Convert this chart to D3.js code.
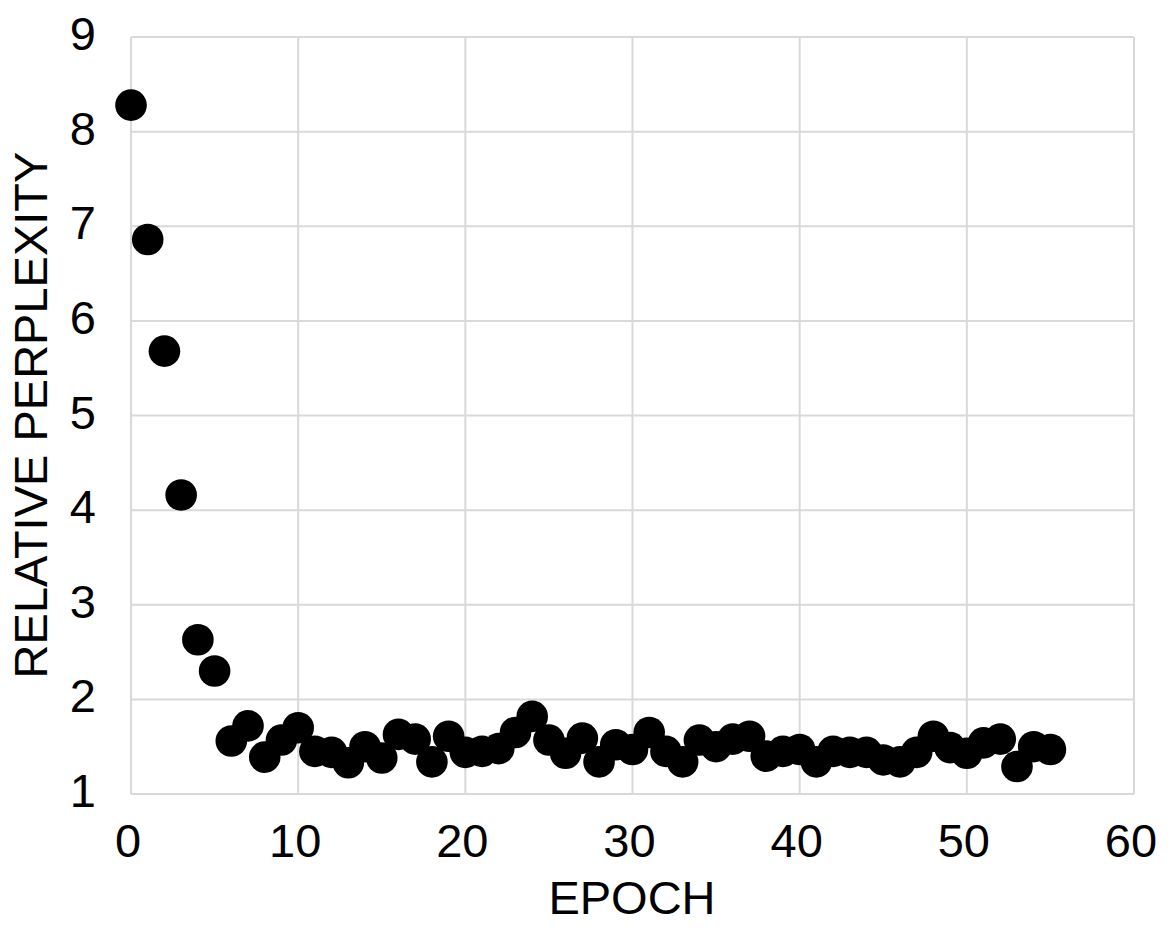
<!DOCTYPE html>
<html>
<head>
<meta charset="utf-8">
<script src="https://cdn.jsdelivr.net/npm/d3@7"></script>
<style>
  body { margin: 0; background: #fff; }
  text { font-family: "Liberation Sans", Arial, Helvetica, sans-serif; fill: #000; }
</style>
</head>
<body>
<svg id="chart"></svg>
<script>
// epochs 0..55 and relative perplexity
var epochs = d3.range(0, 56)
var perplexity = [8.28, 6.86, 5.68, 4.16, 2.63, 2.30, 1.56, 1.72, 1.39, 1.57,
                  1.70, 1.45, 1.44, 1.33, 1.50, 1.38, 1.63, 1.58, 1.34, 1.61,
                  1.44, 1.45, 1.48, 1.65, 1.82, 1.57, 1.43, 1.59, 1.34, 1.52,
                  1.47, 1.65, 1.45, 1.34, 1.57, 1.50, 1.58, 1.61, 1.40, 1.45,
                  1.47, 1.34, 1.45, 1.44, 1.44, 1.36, 1.34, 1.44, 1.61, 1.49,
                  1.43, 1.54, 1.58, 1.29, 1.50, 1.47]
var xTicks = [0, 10, 20, 30, 40, 50, 60]
var yTicks = [1, 2, 3, 4, 5, 6, 7, 8, 9]

var width = 1176, height = 942
var margin = {top: 37, right: 42, bottom: 148, left: 131}

var svg = d3.select("#chart").attr("width", width).attr("height", height)

var x = d3.scaleLinear().domain([0, 60]).range([margin.left, width - margin.right])
var y = d3.scaleLinear().domain([1, 9]).range([height - margin.bottom, margin.top])

// grid
svg.append("g").selectAll("line.v")
  .data(xTicks).enter().append("line")
    .attr("x1", d => x(d)).attr("x2", d => x(d))
    .attr("y1", y(9)).attr("y2", y(1))
    .attr("stroke", "#d9d9d9").attr("stroke-width", 2)

svg.append("g").selectAll("line.h")
  .data(yTicks).enter().append("line")
    .attr("x1", x(0)).attr("x2", x(60))
    .attr("y1", d => y(d)).attr("y2", d => y(d))
    .attr("stroke", "#d9d9d9").attr("stroke-width", 2)

// tick labels
svg.append("g").selectAll("text")
  .data(yTicks).enter().append("text")
    .attr("x", 96)
    .attr("y", d => y(d) + 13)
    .attr("text-anchor", "end")
    .style("font-size", "47px")
    .text(d => d)

svg.append("g").selectAll("text")
  .data(xTicks).enter().append("text")
    .attr("x", d => x(d) - 3)
    .attr("y", 857)
    .attr("text-anchor", "middle")
    .style("font-size", "47px")
    .text(d => d)

// axis titles
svg.append("text")
  .attr("x", 632).attr("y", 914)
  .attr("text-anchor", "middle")
  .style("font-size", "47px")
  .text("EPOCH")

svg.append("text")
  .attr("transform", "translate(47,415) rotate(-90)")
  .attr("text-anchor", "middle")
  .style("font-size", "47px")
  .text("RELATIVE PERPLEXITY")

// points
svg.append("g").selectAll("circle")
  .data(epochs).enter().append("circle")
    .attr("cx", d => x(d))
    .attr("cy", (d, i) => y(perplexity[i]))
    .attr("r", 15.8)
    .attr("fill", "#000")
</script>
</body>
</html>
